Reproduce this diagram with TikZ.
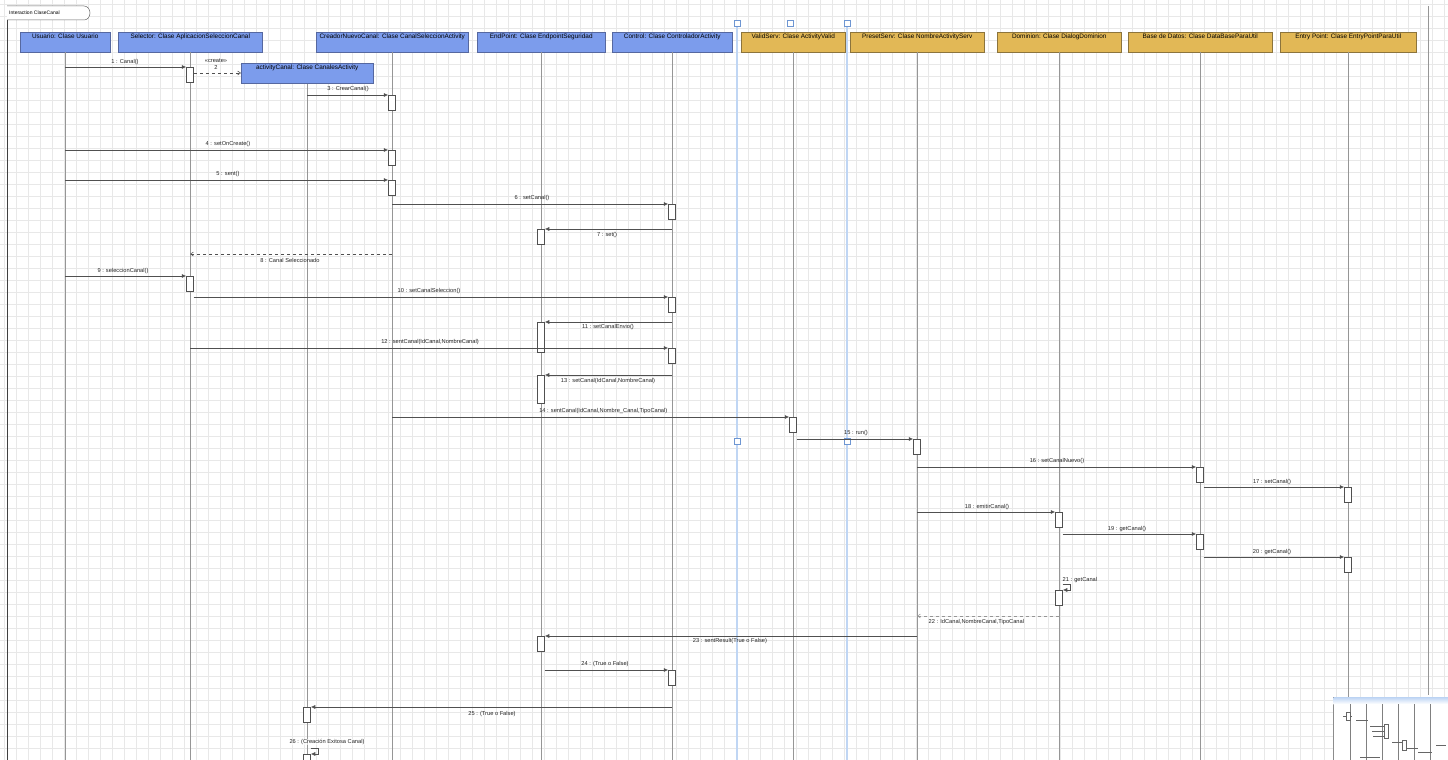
\documentclass[tikz,border=0pt]{standalone}
\usepackage{fontspec}
\setmainfont{Liberation Sans}
\usetikzlibrary{arrows.meta}
\definecolor{hblue}{RGB}{124,156,236}
\definecolor{hblued}{RGB}{86,104,160}
\definecolor{hgold}{RGB}{226,184,86}
\definecolor{hgoldd}{RGB}{140,116,60}
\definecolor{gridc}{RGB}{232,232,232}
\definecolor{lifec}{RGB}{150,150,150}
\definecolor{msgc}{RGB}{80,80,80}
\definecolor{selc}{RGB}{192,214,244}
\definecolor{seld}{RGB}{110,150,210}
\tikzset{
  hdrb/.style={draw=hblued, fill=hblue, anchor=north west, minimum height=20pt,
    inner xsep=2pt, inner ysep=1.5pt, text height=5pt, text depth=12pt,
    font=\fontsize{6.4}{7}\selectfont, line width=0.5pt},
  hdrg/.style={hdrb, draw=hgoldd, fill=hgold},
  life/.style={draw=lifec, line width=0.5pt},
  act/.style={draw=msgc, fill=white, minimum width=7pt, minimum height=15pt,
    inner sep=0pt, anchor=north, line width=0.5pt},
  msg/.style={draw=msgc, line width=0.6pt, -{Latex[length=4.5pt,width=4pt]}},
  ret/.style={draw=msgc, line width=0.5pt, dashed, -{Straight Barb[length=3pt,width=4pt]}},
  lab/.style={font=\fontsize{5.7}{6.5}\selectfont, inner sep=0.5pt, text=black!85},
  handle/.style={draw=seld, fill=white, minimum size=6pt, inner sep=0pt, line width=0.5pt},
}
\begin{document}
\begin{tikzpicture}[x=1pt,y=-1pt]
\useasboundingbox (0,0) rectangle (1448,760);
\fill[white] (0,0) rectangle (1448,760);
\foreach \gx in {4,16,...,1448} \draw[gridc, line width=0.4pt] (\gx,0) -- (\gx,760);
\foreach \gy in {4,16,...,760} \draw[gridc, line width=0.4pt] (0,\gy) -- (1448,\gy);

% frame and tab
\draw[black!75, line width=0.8pt] (7,6) -- (7,760);
\draw[lifec, line width=0.5pt] (1428,6) -- (1428,695);
\draw[black!60, line width=0.5pt, fill=white] (7,6) -- (84,6) to[out=0,in=90] (90,13) to[out=-90,in=0] (84,20) -- (7,20);
\node[font=\fontsize{5}{6}\selectfont, anchor=west, inner sep=0pt] (title) at (9,13) {Interaction ClaseCanal};

% selection guides
\draw[selc, line width=2.5pt] (737,23) -- (737,760);
\draw[selc, line width=2.5pt] (847,23) -- (847,760);

% headers
\node[hdrb, minimum width=90pt] (usr) at (20,32) {Usuario: Clase Usuario};
\node[hdrb, minimum width=144pt] (sel) at (118,32) {Selector: Clase AplicacionSeleccionCanal};
\node[hdrb, minimum width=152pt] (cre) at (316,32) {CreadorNuevoCanal: Clase CanalSeleccionActivity};
\node[hdrb, minimum width=128pt] (endp) at (477,32) {EndPoint: Clase EndpointSeguridad};
\node[hdrb, minimum width=120pt] (ctl) at (612,32) {Control: Clase ControladorActivity};
\node[hdrg, minimum width=104pt] (val) at (741,32) {ValidServ: Clase ActivityValid};
\node[hdrg, minimum width=134pt] (pre) at (850,32) {PresetServ: Clase NombreActivityServ};
\node[hdrg, minimum width=124pt] (dom) at (997,32) {Dominion: Clase DialogDominion};
\node[hdrg, minimum width=144pt] (bd) at (1128,32) {Base de Datos: Clase DataBaseParaUtil};
\node[hdrg, minimum width=136pt] (ep) at (1280,32) {Entry Point: Clase EntryPointParaUtil};
\node[hdrb, minimum width=132pt] (acv) at (241,63) {activityCanal: Clase CanalesActivity};

% lifelines
\coordinate (bot) at (0,760);
\foreach \n in {usr,sel,cre,endp,ctl,val,pre,dom,bd,ep,acv}
  \draw[life] (\n.south) -- (\n.south |- bot);

% handles
\node[handle] (h1) at (737,23) {};
\node[handle] (h2) at (790,23) {};
\node[handle] (h3) at (847,23) {};
\node[handle] (h4) at (737,441) {};
\node[handle] (h5) at (847,441) {};

% activations
\node[act] (a1) at (190,67) {};
\node[act] (a3) at (392,95) {};
\node[act] (a4) at (392,150) {};
\node[act] (a5) at (392,180) {};
\node[act] (a6) at (672,204) {};
\node[act] (a7) at (541,229) {};
\node[act] (a9) at (190,276) {};
\node[act] (a10) at (672,297) {};
\node[act, minimum height=30pt] (a11) at (541,322) {};
\node[act] (a12) at (672,348) {};
\node[act, minimum height=28pt] (a13) at (541,375) {};
\node[act] (a14) at (793,417) {};
\node[act] (a15) at (917,439) {};
\node[act] (a16) at (1200,467) {};
\node[act] (a17) at (1348,487) {};
\node[act] (a18) at (1059,512) {};
\node[act] (a19) at (1200,534) {};
\node[act] (a20) at (1348,557) {};
\node[act] (a21) at (1059,590) {};
\node[act] (a23) at (541,636) {};
\node[act] (a24) at (672,670) {};
\node[act] (a25) at (307,707) {};
\node[act] (a26) at (307,754) {};

% source points
\coordinate (s1) at (65,67);
\coordinate (s3) at (307,95);
\coordinate (s4) at (65,150);
\coordinate (s5) at (65,180);
\coordinate (s6) at (392,204);
\coordinate (s7) at (672,229);
\coordinate (s8) at (392,254);
\coordinate (t8) at (190,254);
\coordinate (s9) at (65,276);
\coordinate (s10) at (193.5,297);
\coordinate (s11) at (672,322);
\coordinate (s12) at (190,348);
\coordinate (s13) at (672,375);
\coordinate (s14) at (392,417);
\coordinate (s15) at (796.5,439);
\coordinate (s16) at (917,467);
\coordinate (s17) at (1203.5,487);
\coordinate (s18) at (917,512);
\coordinate (s19) at (1062.5,534);
\coordinate (s20) at (1203.5,557);
\coordinate (s21) at (1062.5,584);
\coordinate (s22) at (1059,616);
\coordinate (t22) at (917,616);
\coordinate (s23) at (917,636);
\coordinate (s24) at (544.5,670);
\coordinate (s25) at (672,707);
\coordinate (s26) at (310.5,748);

% messages
\draw[msg] (s1) -- (a1.north west);
\node[lab] (l1) at (125,62) {1 : Canal()};
\draw[ret] ([yshift=-6pt]a1.north east) -- (acv.west |- 0,73);
\node[lab] (l2a) at (216,61) {«create»};
\node[lab] (l2b) at (216,68) {2};
\draw[msg] (s3) -- (a3.north west);
\node[lab] (l3) at (348,89) {3 : CrearCanal()};
\draw[msg] (s4) -- (a4.north west);
\node[lab] (l4) at (228,144) {4 : setOnCreate()};
\draw[msg] (s5) -- (a5.north west);
\node[lab] (l5) at (228,174) {5 : sent()};
\draw[msg] (s6) -- (a6.north west);
\node[lab] (l6) at (532,198) {6 : setCanal()};
\draw[msg] (s7) -- (a7.north east);
\node[lab] (l7) at (607,235) {7 : set()};
\draw[ret] (s8) -- (t8);
\node[lab] (l8) at (290,260) {8 : Canal Seleccionado};
\draw[msg] (s9) -- (a9.north west);
\node[lab] (l9) at (123,271) {9 : seleccionCanal()};
\draw[msg] (s10) -- (a10.north west);
\node[lab] (l10) at (429,291) {10 : setCanalSeleccion()};
\draw[msg] (s11) -- (a11.north east);
\node[lab] (l11) at (608,327) {11 : setCanalEnvio()};
\draw[msg] (s12) -- (a12.north west);
\node[lab] (l12) at (430,342) {12 : sentCanal(IdCanal,NombreCanal)};
\draw[msg] (s13) -- (a13.north east);
\node[lab] (l13) at (608,381) {13 : setCanal(IdCanal,NombreCanal)};
\draw[msg] (s14) -- (a14.north west);
\node[lab, anchor=east] (l14) at (668,411) {14 : sentCanal(IdCanal,Nombre\_Canal,TipoCanal)};
\draw[msg] (s15) -- (a15.north west);
\node[lab] (l15) at (856,433) {15 : run()};
\draw[msg] (s16) -- (a16.north west);
\node[lab] (l16) at (1057,461) {16 : setCanalNuevo()};
\draw[msg] (s17) -- (a17.north west);
\node[lab] (l17) at (1272,482) {17 : setCanal()};
\draw[msg] (s18) -- (a18.north west);
\node[lab] (l18) at (987,507) {18 : emitirCanal()};
\draw[msg] (s19) -- (a19.north west);
\node[lab] (l19) at (1127,529) {19 : getCanal()};
\draw[msg] (s20) -- (a20.north west);
\node[lab] (l20) at (1272,552) {20 : getCanal()};
\draw[msg] (s21) -- ++(8,0) -- ++(0,6) -- (a21.north east);
\node[lab, anchor=west] (l21) at (1062,580) {21 : getCanal};
\draw[ret, draw=msgc!60] (s22) -- (t22);
\node[lab, anchor=west] (l22) at (928,622) {22 : IdCanal,NombreCanal,TipoCanal};
\draw[msg] (s23) -- (a23.north east);
\node[lab] (l23) at (730,641) {23 : sentResult(True o False)};
\draw[msg] (s24) -- (a24.north west);
\node[lab] (l24) at (605,664) {24 : (True o False)};
\draw[msg] (s25) -- (a25.north east);
\node[lab] (l25) at (492,714) {25 : (True o False)};
\node[lab, fill=white, fill opacity=0.6, text opacity=1] (l26) at (327,742) {26 : (Creación Exitosa Canal)};
\draw[msg] (s26) -- ++(8,0) -- ++(0,6) -- (a26.north east);

% overview window
\begin{scope}
\fill[black!15] (1336,700) rectangle (1450,763);
\draw[black!45, fill=white, line width=0.5pt] (1333,697) rectangle (1450,762);
\shade[top color=selc, bottom color=white] (1333.5,697.5) rectangle (1449.5,704);
\draw[black!50, line width=0.3pt] (1350,704) -- (1350,760) (1366,704) -- (1366,760) (1382,704) -- (1382,760)
  (1398,704) -- (1398,760) (1414,704) -- (1414,760) (1430,704) -- (1430,760);
\draw[black!60, line width=0.6pt] (1343,716) -- (1352,716) (1356,720) -- (1368,720) (1370,726) -- (1384,726)
  (1372,731) -- (1386,731) (1373,736) -- (1388,736) (1392,742) -- (1404,742) (1404,748) -- (1418,748)
  (1418,752) -- (1432,752) (1360,757) -- (1380,757) (1436,745) -- (1446,745);
\draw[black!60, fill=white, line width=0.3pt] (1346,712) rectangle (1350,720) (1384,724) rectangle (1388,738)
  (1402,740) rectangle (1406,750);
\end{scope}
\end{tikzpicture}
\end{document}
